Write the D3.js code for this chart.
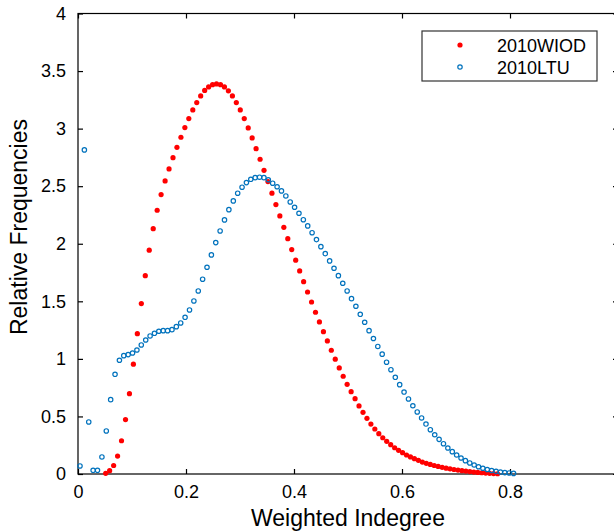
<!DOCTYPE html>
<html>
<head>
<meta charset="utf-8">
<script src="https://cdn.jsdelivr.net/npm/d3@7/dist/d3.min.js"></script>
<style>
  html, body { margin: 0; padding: 0; background: #fff; }
  svg { display: block; font-family: "Liberation Sans", Arial, sans-serif; }
</style>
</head>
<body>
<svg id="chart" width="614" height="531"></svg>
<script>
// ---- data ----
const seriesNames = ["2010WIOD", "2010LTU"];
const xTicks = [0, 0.2, 0.4, 0.6, 0.8];
const yTicks = [0, 0.5, 1, 1.5, 2, 2.5, 3, 3.5, 4];
const xTickLabels = ["0", "0.2", "0.4", "0.6", "0.8"];
const yTickLabels = ["0", "0.5", "1", "1.5", "2", "2.5", "3", "3.5", "4"];

const wiodX = [0.0513,0.0586,0.0660,0.0733,0.0806,0.0880,0.0953,0.1026,0.1099,0.1173,
0.1246,0.1319,0.1393,0.1466,0.1539,0.1613,0.1686,0.1759,0.1832,0.1906,
0.1979,0.2052,0.2126,0.2199,0.2272,0.2346,0.2419,0.2492,0.2565,0.2639,
0.2712,0.2785,0.2859,0.2932,0.3005,0.3079,0.3152,0.3225,0.3298,0.3372,
0.3445,0.3518,0.3592,0.3665,0.3738,0.3812,0.3885,0.3958,0.4031,0.4105,
0.4178,0.4251,0.4325,0.4398,0.4471,0.4545,0.4618,0.4691,0.4764,0.4838,
0.4911,0.4984,0.5058,0.5131,0.5204,0.5278,0.5351,0.5424,0.5497,0.5571,
0.5644,0.5717,0.5791,0.5864,0.5937,0.6011,0.6084,0.6157,0.6230,0.6304,
0.6377,0.6450,0.6524,0.6597,0.6670,0.6744,0.6817,0.6890,0.6963,0.7037,
0.7110,0.7183,0.7257,0.7330,0.7403,0.7477,0.7550,0.7623,0.7696,0.7770];
const wiodY = [0.006,0.029,0.074,0.156,0.289,0.473,0.698,0.954,1.219,1.480,
1.723,1.944,2.131,2.291,2.427,2.546,2.650,2.748,2.838,2.925,
3.009,3.087,3.162,3.226,3.284,3.332,3.362,3.382,3.388,3.382,
3.362,3.328,3.284,3.226,3.162,3.087,3.006,2.919,2.826,2.734,
2.638,2.540,2.439,2.340,2.242,2.143,2.044,1.949,1.857,1.764,
1.671,1.581,1.494,1.405,1.321,1.236,1.156,1.075,0.997,0.921,
0.849,0.779,0.715,0.654,0.591,0.536,0.484,0.434,0.391,0.350,
0.315,0.284,0.255,0.228,0.206,0.185,0.165,0.148,0.133,0.119,
0.104,0.093,0.083,0.074,0.066,0.058,0.051,0.045,0.039,0.034,
0.029,0.025,0.021,0.017,0.014,0.011,0.008,0.006,0.004,0.002];

const ltuX = [0.0037,0.0118,0.0199,0.0280,0.0361,0.0443,0.0524,0.0605,0.0686,0.0767,
0.0848,0.0929,0.1010,0.1091,0.1172,0.1254,0.1335,0.1416,0.1497,0.1578,
0.1659,0.1740,0.1821,0.1902,0.1983,0.2065,0.2146,0.2227,0.2308,0.2389,
0.2470,0.2551,0.2632,0.2713,0.2794,0.2876,0.2957,0.3038,0.3119,0.3200,
0.3281,0.3362,0.3443,0.3524,0.3605,0.3687,0.3768,0.3849,0.3930,0.4011,
0.4092,0.4173,0.4254,0.4335,0.4416,0.4498,0.4579,0.4660,0.4741,0.4822,
0.4903,0.4984,0.5065,0.5146,0.5227,0.5309,0.5390,0.5471,0.5552,0.5633,
0.5714,0.5795,0.5876,0.5957,0.6038,0.6120,0.6201,0.6282,0.6363,0.6444,
0.6525,0.6606,0.6687,0.6768,0.6849,0.6931,0.7012,0.7093,0.7174,0.7255,
0.7336,0.7417,0.7498,0.7579,0.7660,0.7742,0.7823,0.7904,0.7985,0.8066];
const ltuY = [0.070,2.815,0.452,0.032,0.032,0.148,0.374,0.646,0.866,0.988,
1.028,1.037,1.051,1.077,1.121,1.164,1.199,1.222,1.240,1.245,
1.245,1.254,1.280,1.312,1.361,1.425,1.503,1.590,1.692,1.796,
1.903,2.010,2.111,2.207,2.296,2.372,2.439,2.491,2.531,2.560,
2.574,2.578,2.574,2.556,2.526,2.495,2.459,2.415,2.363,2.317,
2.265,2.209,2.155,2.096,2.036,1.975,1.914,1.851,1.787,1.723,
1.657,1.590,1.523,1.457,1.387,1.318,1.245,1.177,1.108,1.041,
0.971,0.906,0.840,0.776,0.712,0.652,0.593,0.539,0.487,0.434,
0.385,0.341,0.301,0.263,0.226,0.194,0.165,0.139,0.116,0.096,
0.078,0.063,0.050,0.039,0.030,0.023,0.017,0.012,0.009,0.005];

(function () {
// ---- layout ----
const svg = d3.select("#chart");
const W = 614, H = 531;
const mLeft = 78, mRight = 618, mTop = 13.5, mBottom = 474;
const x = d3.scaleLinear().domain([0, 1]).range([mLeft, mRight]);
const y = d3.scaleLinear().domain([0, 4]).range([mBottom, mTop]);
const red = "#ff0000", blue = "#0072bd";
const tickFont = 18, labelFont = 23;

svg.append("rect").attr("width", W).attr("height", H).attr("fill", "#fff");

// axes box
svg.append("rect").attr("x", mLeft).attr("y", mTop)
  .attr("width", mRight - mLeft).attr("height", mBottom - mTop)
  .attr("fill", "none").attr("stroke", "#000").attr("stroke-width", 1.2);

// ticks via d3 axes (inward)
const tl = 5;
const axB = svg.append("g").attr("transform", `translate(0,${mBottom})`)
  .call(d3.axisBottom(x).tickValues(xTicks).tickSizeInner(-tl).tickSizeOuter(0)
    .tickPadding(11).tickFormat((d, i) => xTickLabels[i]));
const axT = svg.append("g").attr("transform", `translate(0,${mTop})`)
  .call(d3.axisTop(x).tickValues(xTicks).tickSizeInner(-tl).tickSizeOuter(0).tickFormat(""));
const axL = svg.append("g").attr("transform", `translate(${mLeft},0)`)
  .call(d3.axisLeft(y).tickValues(yTicks).tickSizeInner(-tl).tickSizeOuter(0)
    .tickPadding(12).tickFormat((d, i) => yTickLabels[i]));
const axR = svg.append("g").attr("transform", `translate(${mRight},0)`)
  .call(d3.axisRight(y).tickValues(yTicks).tickSizeInner(-tl).tickSizeOuter(0).tickFormat(""));
[axB, axT, axL, axR].forEach(a => {
  a.select(".domain").remove();
  a.selectAll("line").attr("stroke", "#000").attr("stroke-width", 1.2);
  a.selectAll("text").attr("fill", "#000").style("font-size", tickFont + "px")
    .style("font-family", "'Liberation Sans', Arial, sans-serif");
});

// series
const wiod = wiodX.map((v, i) => ({ x: v, y: wiodY[i] }));
const ltu = ltuX.map((v, i) => ({ x: v, y: ltuY[i] }));

svg.append("g").selectAll("circle").data(wiod).join("circle")
  .attr("cx", d => x(d.x)).attr("cy", d => y(d.y)).attr("r", 2.6)
  .attr("fill", red);

svg.append("g").selectAll("circle").data(ltu).join("circle")
  .attr("cx", d => x(d.x)).attr("cy", d => y(d.y)).attr("r", 2.2)
  .attr("fill", "none").attr("stroke", blue).attr("stroke-width", 1.2);

// axis labels
svg.append("text").attr("x", 348).attr("y", 526)
  .attr("text-anchor", "middle").style("font-size", labelFont + "px")
  .text("Weighted Indegree");
svg.append("text").attr("transform", `translate(27,227) rotate(-90)`)
  .attr("text-anchor", "middle").style("font-size", labelFont + "px")
  .text("Relative Frequencies");

// legend
const lg = svg.append("g");
lg.append("rect").attr("x", 422).attr("y", 31).attr("width", 175).attr("height", 50)
  .attr("fill", "#fff").attr("stroke", "#333").attr("stroke-width", 1.2);
const rows = [{ name: seriesNames[0], cy: 45 }, { name: seriesNames[1], cy: 67 }];
lg.append("circle").attr("cx", 460).attr("cy", rows[0].cy).attr("r", 2.6).attr("fill", red);
lg.append("circle").attr("cx", 460).attr("cy", rows[1].cy).attr("r", 2.2)
  .attr("fill", "none").attr("stroke", blue).attr("stroke-width", 1.2);
rows.forEach(r => {
  lg.append("text").attr("x", 497).attr("y", r.cy + 6.5)
    .style("font-size", "18px").attr("fill", "#000").text(r.name);
});
})();
</script>
</body>
</html>
